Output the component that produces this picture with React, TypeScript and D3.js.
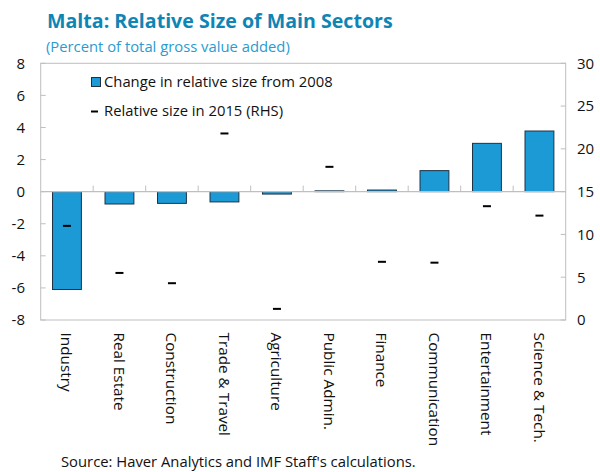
import React from "react";
import * as d3 from "d3";

const categories = ["Industry", "Real Estate", "Construction", "Trade & Travel", "Agriculture", "Public Admin.", "Finance", "Communication", "Entertainment", "Science & Tech."];
const changeFrom2008 = [-6.1, -0.77, -0.73, -0.64, -0.15, 0.05, 0.1, 1.31, 3.01, 3.78];
const size2015 = [11.0, 5.5, 4.3, 21.8, 1.3, 17.9, 6.8, 6.7, 13.3, 12.2];
const leftTicks = [-8, -6, -4, -2, 0, 2, 4, 6, 8];
const rightTicks = [0, 5, 10, 15, 20, 25, 30];

const W = 600, H = 472;
const X0 = 40.7, X1 = 565.7, Y0 = 63.3, Y1 = 320;
const FONT = "'Open Sans', 'Noto Sans', sans-serif";
const TITLE_COLOR = "#0e85b5";
const SUB_COLOR = "#2a9bd0";
const BAR_FILL = "#1b9ad6";
const BAR_STROKE = "#1e3246";
const GRID = "#bfbfbf";

export default function App() {
  const x = d3.scaleBand<string>().domain(categories).range([X0, X1]).paddingInner(0.45).paddingOuter(0.225);
  const xb = d3.scaleBand<string>().domain(categories).range([X0, X1]);
  const yL = d3.scaleLinear().domain([-8, 8]).range([Y1, Y0]);
  const yR = d3.scaleLinear().domain([0, 30]).range([Y1, Y0]);
  const fs = 14.8;
  return (
    <svg width={W} height={H} style={{ position: "absolute", left: 0, top: 0, background: "#fff" }} fontFamily={FONT}>
      <text x={47} y={27.5} fontSize={19.6} fontWeight={700} fill={TITLE_COLOR}>Malta: Relative Size of Main Sectors</text>
      <text x={46} y={51.5} fontSize={14.8} fill={SUB_COLOR}>(Percent of total gross value added)</text>

      {/* plot frame */}
      <rect x={X0} y={Y0} width={X1 - X0} height={Y1 - Y0} fill="none" stroke={GRID} strokeWidth={1} />

      {/* left ticks */}
      {leftTicks.map((t) => (
        <g key={"l" + t}>
          <line x1={X0} x2={X0 + 5} y1={yL(t)} y2={yL(t)} stroke={GRID} />
          <text x={25} y={yL(t)} dy="0.36em" textAnchor="end" fontSize={15} fill="#111">{t}</text>
        </g>
      ))}
      {/* right ticks */}
      {rightTicks.map((t) => (
        <g key={"r" + t}>
          <line x1={X1 - 5} x2={X1} y1={yR(t)} y2={yR(t)} stroke={GRID} />
          <text x={577} y={yR(t)} dy="0.36em" textAnchor="start" fontSize={15} fill="#111">{t}</text>
        </g>
      ))}

      {/* bars */}
      {categories.map((c, i) => {
        const v = changeFrom2008[i];
        const y0 = yL(Math.max(0, v));
        const y1 = yL(Math.min(0, v));
        return (
          <rect key={"b" + c} x={x(c)!} y={y0} width={x.bandwidth()} height={Math.max(0.6, y1 - y0)} fill={BAR_FILL} stroke={BAR_STROKE} strokeWidth={1} />
        );
      })}

      {/* zero line + category ticks */}
      <line x1={X0} x2={X1} y1={yL(0)} y2={yL(0)} stroke={GRID} strokeWidth={1.2} />
      {categories.slice(1).map((c) => (
        <line key={"t" + c} x1={xb(c)!} x2={xb(c)!} y1={yL(0)} y2={yL(0) - 6} stroke={GRID} />
      ))}

      {/* markers */}
      {categories.map((c, i) => {
        const cx = xb(c)! + xb.bandwidth() / 2;
        return <line key={"m" + c} x1={cx - 4} x2={cx + 4} y1={yR(size2015[i])} y2={yR(size2015[i])} stroke="#000" strokeWidth={2} />;
      })}

      {/* category labels */}
      {categories.map((c) => {
        const cx = xb(c)! + xb.bandwidth() / 2;
        return (
          <text key={"c" + c} transform={`translate(${cx - 0.5},332.5) rotate(90)`} dy="0.35em" fontSize={15.3} fill="#111">{c}</text>
        );
      })}

      {/* legend */}
      <rect x={91.5} y={77.5} width={9} height={9} fill={BAR_FILL} stroke={BAR_STROKE} strokeWidth={1} />
      <text x={104} y={87} fontSize={fs} fill="#111">Change in relative size from 2008</text>
      <line x1={91} x2={98} y1={111.5} y2={111.5} stroke="#000" strokeWidth={2} />
      <text x={104} y={116} fontSize={fs} fill="#111">Relative size in 2015 (RHS)</text>

      <text x={61} y={467} fontSize={fs} fill="#111">Source: Haver Analytics and IMF Staff's calculations.</text>
    </svg>
  );
}
